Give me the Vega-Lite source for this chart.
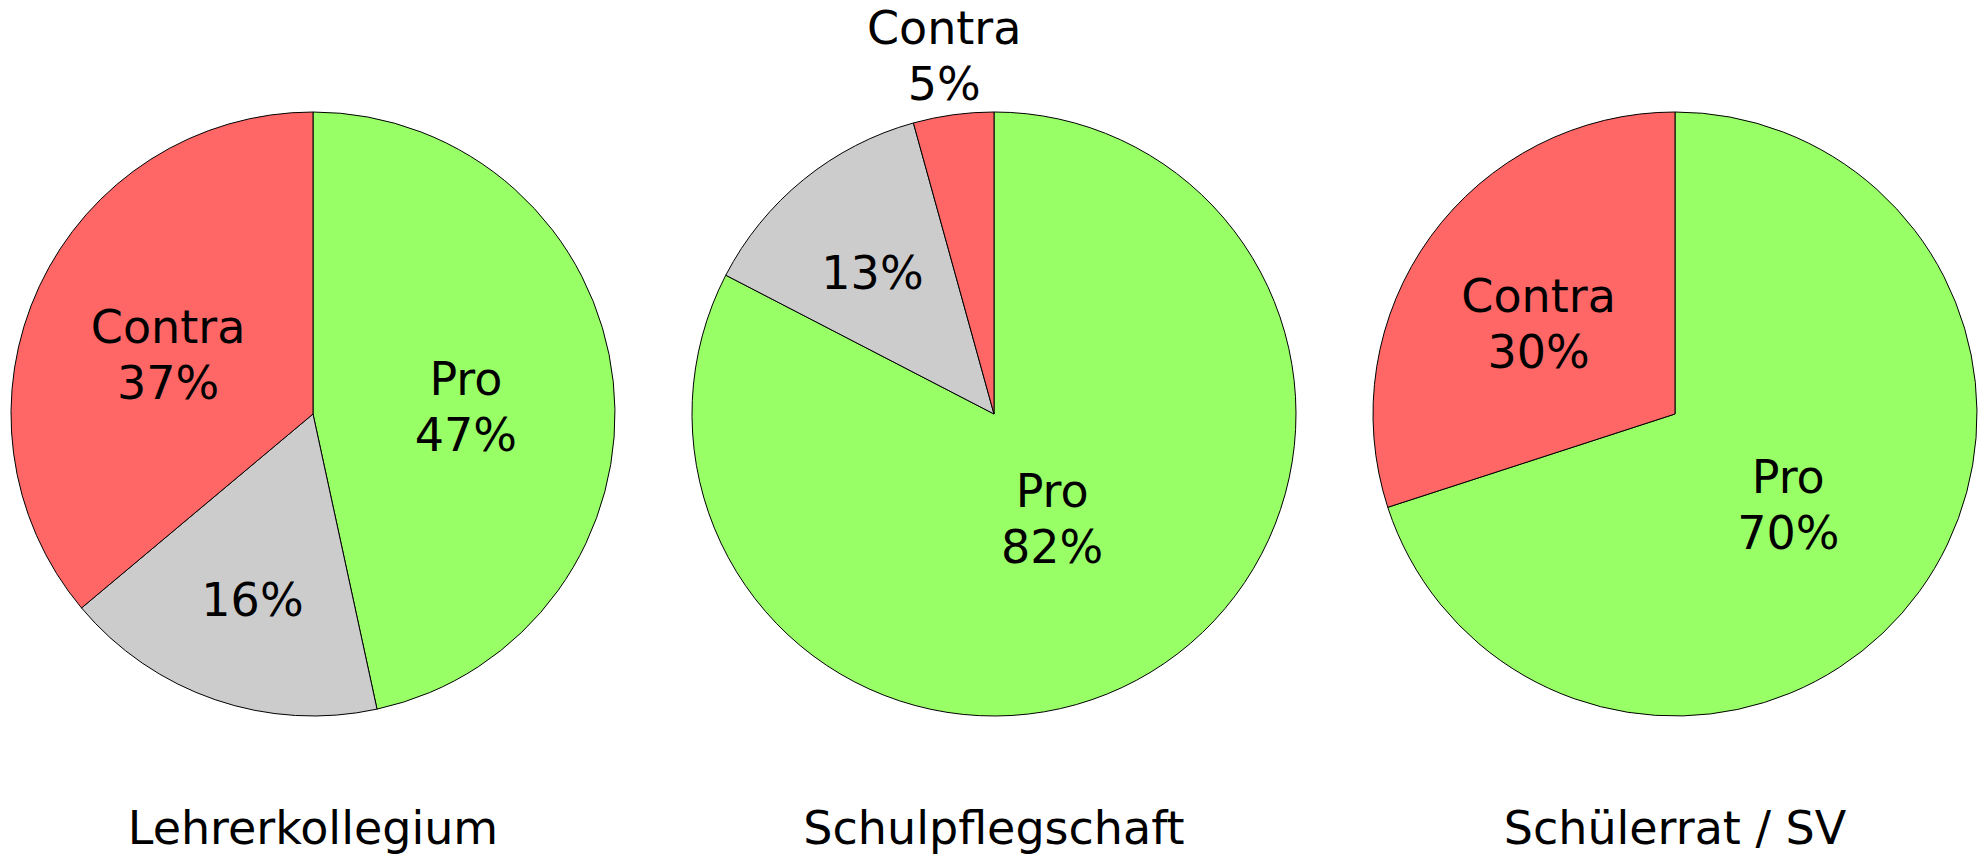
{
  "$schema": "https://vega.github.io/schema/vega-lite/v6.json",
  "padding": {"left": 1, "top": 0, "right": 0, "bottom": 6},
  "background": "white",
  "data": {
    "values": [
      {"Gremium": "Lehrerkollegium", "Antwort": "Pro", "i": 1, "value": 46.6, "label": "Pro\n47%"},
      {"Gremium": "Lehrerkollegium", "Antwort": "Enthaltung", "i": 2, "value": 17.3, "label": "16%"},
      {"Gremium": "Lehrerkollegium", "Antwort": "Contra", "i": 3, "value": 36.1, "label": "Contra\n37%"},
      {"Gremium": "Schulpflegschaft", "Antwort": "Pro", "i": 1, "value": 82.6, "label": "Pro\n82%"},
      {"Gremium": "Schulpflegschaft", "Antwort": "Enthaltung", "i": 2, "value": 13.1, "label": "13%"},
      {"Gremium": "Schulpflegschaft", "Antwort": "Contra", "i": 3, "value": 4.3, "label": "Contra\n5%"},
      {"Gremium": "Schülerrat / SV", "Antwort": "Pro", "i": 1, "value": 70.0, "label": "Pro\n70%"},
      {"Gremium": "Schülerrat / SV", "Antwort": "Contra", "i": 3, "value": 30.0, "label": "Contra\n30%"}
    ]
  },
  "facet": {
    "column": {
      "field": "Gremium",
      "type": "nominal",
      "sort": ["Lehrerkollegium", "Schulpflegschaft", "Schülerrat / SV"],
      "header": {
        "title": null,
        "labelOrient": "bottom",
        "labelFont": "DejaVu Sans",
        "labelFontSize": 46,
        "labelColor": "black",
        "labelBaseline": "alphabetic",
        "labelPadding": 16
      }
    }
  },
  "spacing": 57,
  "spec": {
    "width": 624,
    "height": 828,
    "layer": [
      {
        "mark": {"type": "arc", "outerRadius": 302, "stroke": "black", "strokeWidth": 1},
        "encoding": {
          "theta": {"field": "value", "type": "quantitative", "stack": true},
          "order": {"field": "i", "type": "quantitative"},
          "color": {
            "field": "Antwort",
            "type": "nominal",
            "scale": {"domain": ["Pro", "Enthaltung", "Contra"], "range": ["#99ff66", "#cccccc", "#ff6666"]},
            "legend": null
          }
        }
      },
      {
        "mark": {
          "type": "text",
          "font": "DejaVu Sans",
          "fontSize": 46,
          "color": "black",
          "lineBreak": "\n",
          "lineHeight": 56,
          "align": "center",
          "baseline": "middle",
          "dy": {"expr": "indexof(datum.label, '\\n') >= 0 ? -17 : 11"}
        },
        "encoding": {
          "theta": {"field": "value", "type": "quantitative", "stack": true},
          "order": {"field": "i", "type": "quantitative"},
          "radius": {
            "field": "value",
            "type": "quantitative",
            "scale": {"type": "linear", "domain": [4.3, 13, 36, 70, 83], "range": [370, 193, 160, 140, 111], "zero": false, "clamp": true}
          },
          "text": {"field": "label", "type": "nominal"}
        }
      }
    ]
  },
  "config": {"view": {"stroke": null}}
}
